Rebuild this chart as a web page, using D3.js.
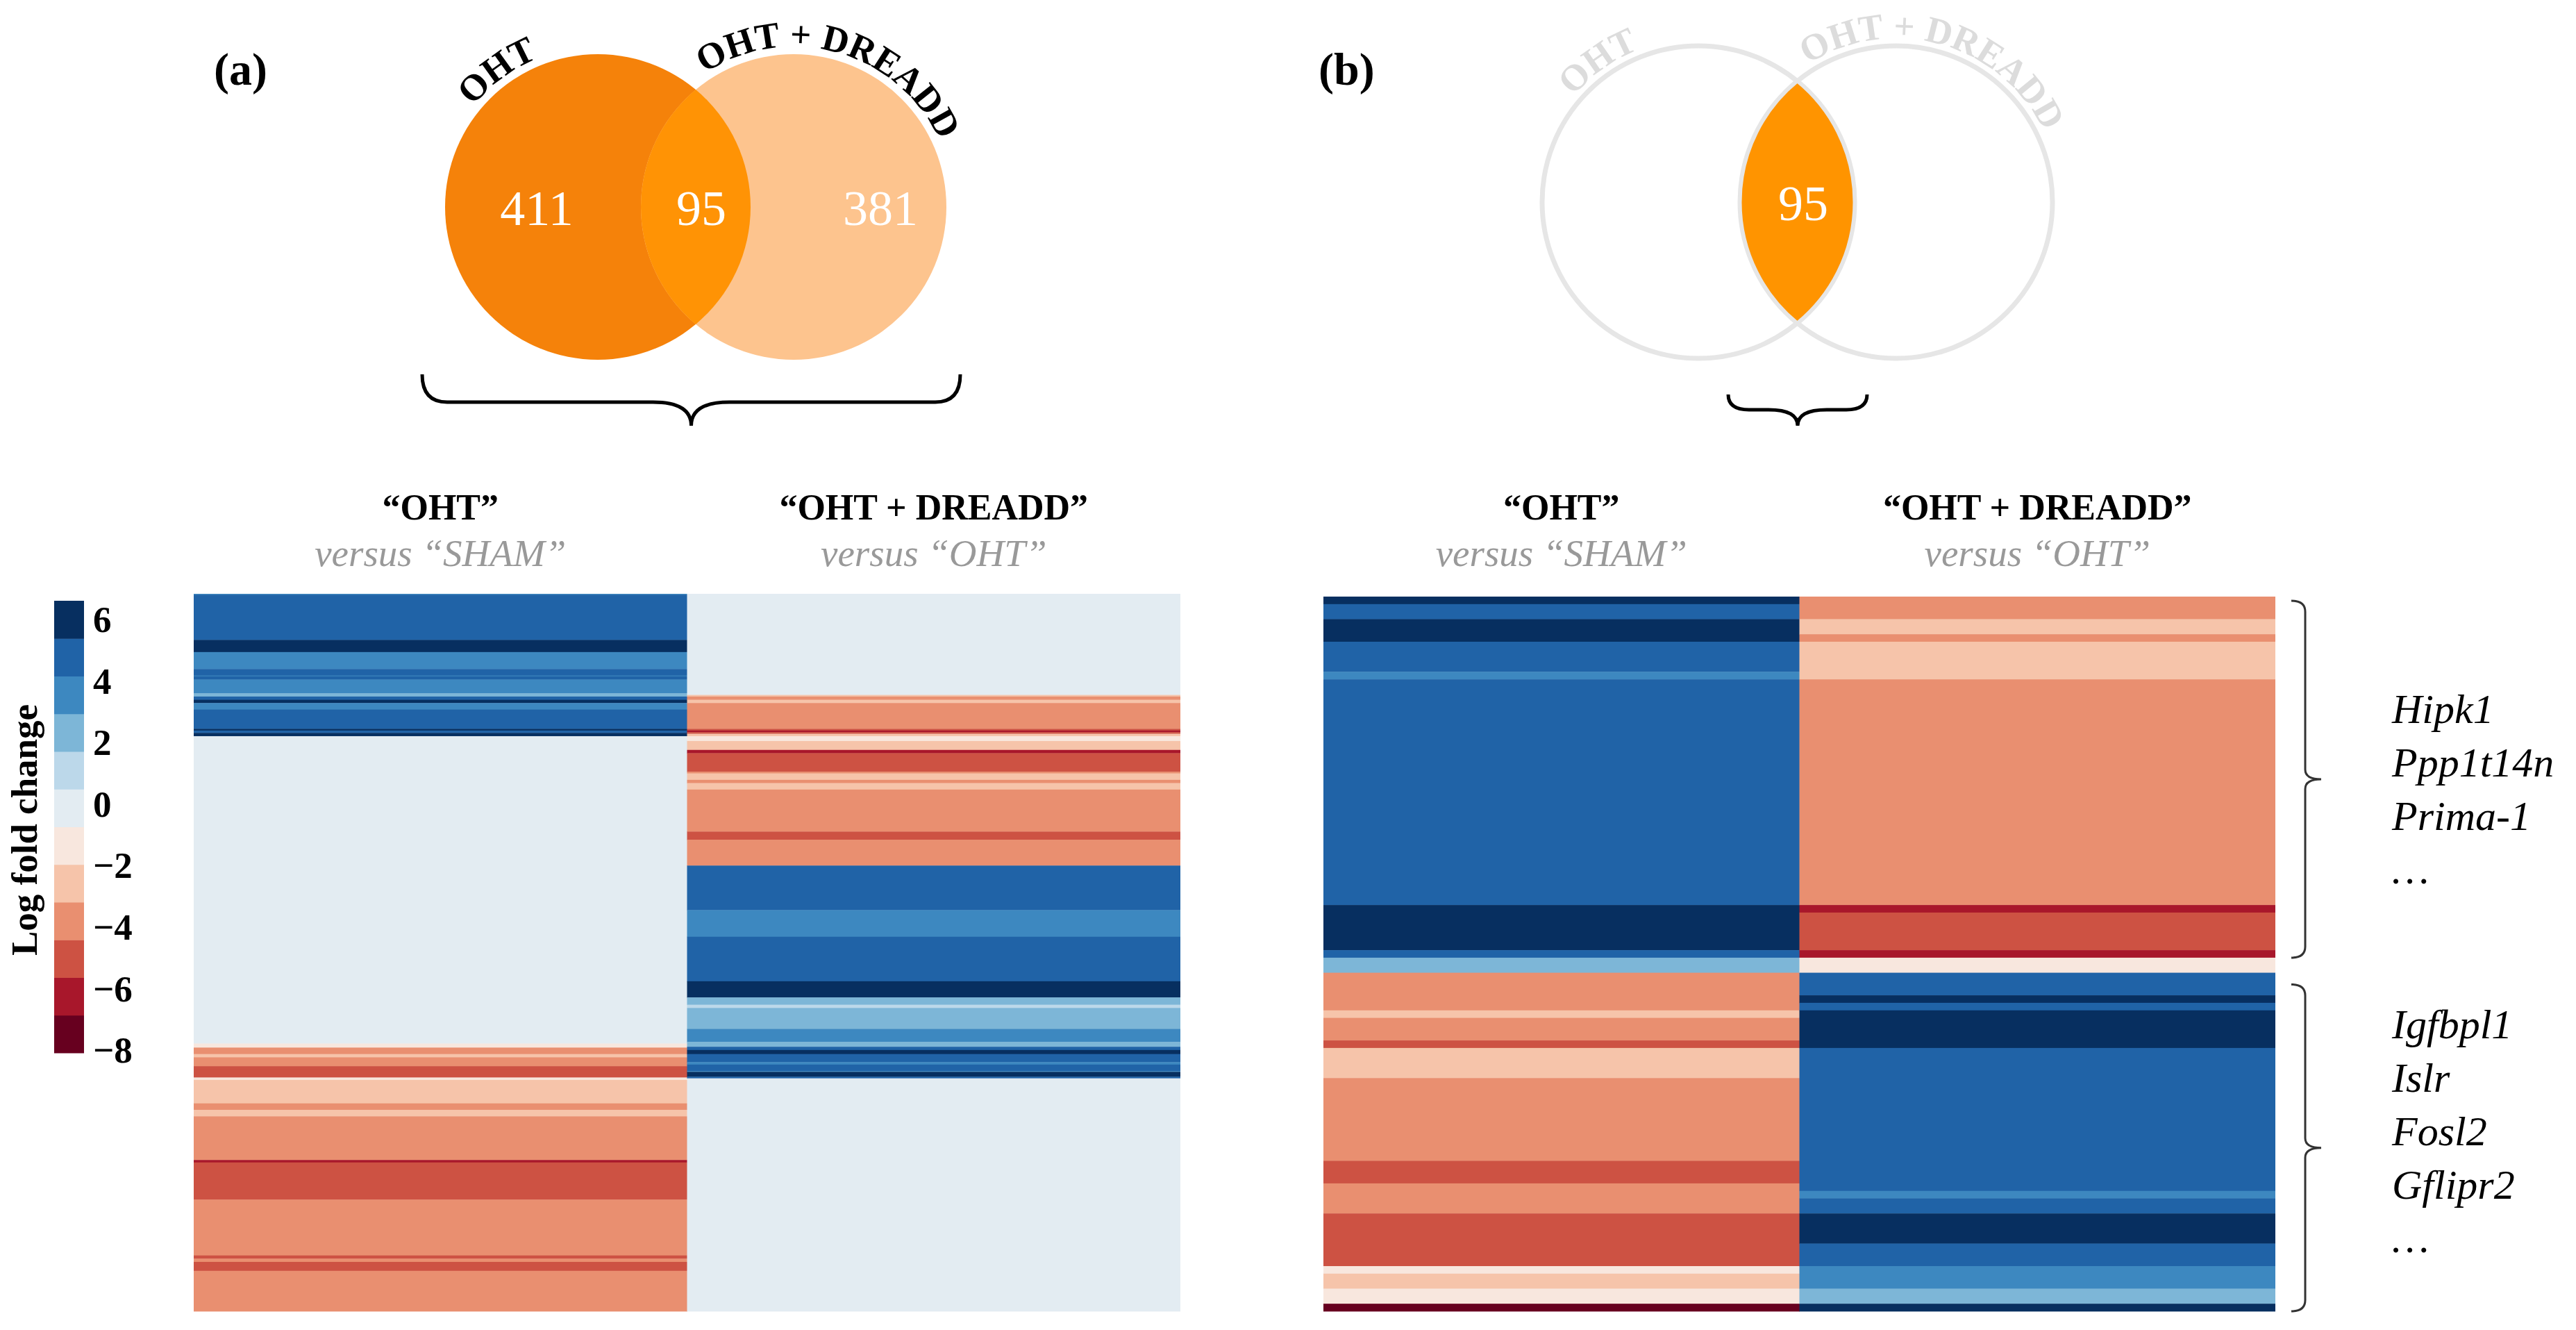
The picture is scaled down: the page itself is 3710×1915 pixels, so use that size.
<!DOCTYPE html>
<html>
<head>
<meta charset="utf-8">
<script src="https://cdn.jsdelivr.net/npm/d3@7"></script>
<style>
html, body { margin: 0; padding: 0; background: #fff; }
svg { display: block; font-family: "Liberation Serif", "DejaVu Serif", serif; }
</style>
</head>
<body>
<script>
// Venn: OHT only, shared, OHT + DREADD only
const vennSets = ["OHT", "OHT + DREADD"];
const vennCounts = [411, 95, 381];

const columnTitles = ["“OHT”", "“OHT + DREADD”"];
const columnSubtitles = ["versus “SHAM”", "versus “OHT”"];

// heatmap rows as runs: [log fold change, number of genes], top to bottom
const allOHT = [
  [3.3, 1], [4.6, 56], [5.8, 15], [3.6, 21], [4.4, 8], [3.2, 1], [4.3, 4], [3.7, 17],
  [2.4, 4], [4.5, 4], [5.6, 4], [3.4, 8], [4.7, 24], [5.5, 2], [4.9, 3], [5.9, 4],
  [0, 380],
  [-1.6, 5], [-3.9, 8], [-2.8, 4], [-3.6, 11], [-4.6, 4], [-5.1, 10], [-1.2, 3], [-2.2, 4],
  [-2.7, 25], [-3.5, 8], [-2.5, 8], [-3.8, 54], [-6.3, 3], [-5.0, 46], [-3.9, 69], [-4.7, 4],
  [-3.6, 4], [-5.2, 11], [-3.7, 50]
];
const allDREADD = [
  [0, 125],
  [-2.4, 2], [-3.5, 4], [-2.6, 4], [-3.8, 32], [-5.1, 2], [-6.1, 2], [-4.8, 2], [-2.3, 3],
  [-1.3, 6], [-2.7, 11], [-6.0, 4], [-5.2, 23], [-3.4, 2], [-2.5, 8], [-3.6, 4], [-2.8, 8],
  [-3.9, 52], [-5.0, 10], [-3.7, 32],
  [4.6, 55], [3.6, 33], [4.8, 55], [5.9, 20], [2.2, 9], [1.3, 4], [2.5, 26], [3.4, 16],
  [2.6, 6], [4.4, 4], [5.7, 5], [4.7, 10], [3.3, 3], [4.5, 8], [3.1, 1], [5.6, 6], [4.3, 2],
  [0, 288]
];
const sharedOHT = [
  [5.8, 1], [4.7, 2], [6.0, 3], [4.5, 4], [3.6, 1], [4.8, 30], [5.9, 6], [4.6, 1], [2.4, 2],
  [-3.8, 5], [-2.6, 1], [-3.7, 3], [-5.0, 1], [-2.7, 4], [-3.9, 11], [-5.1, 3], [-3.6, 4],
  [-5.2, 7], [-1.5, 1], [-2.5, 2], [-1.2, 2], [-7.6, 1]
];
const sharedDREADD = [
  [-3.7, 3], [-2.6, 2], [-3.9, 1], [-2.7, 5], [-3.8, 30], [-6.2, 1], [-5.1, 5], [-6.0, 1],
  [-1.4, 2], [4.6, 3], [5.8, 1], [4.5, 1], [6.1, 5], [4.8, 19], [3.5, 1], [4.7, 2], [5.9, 4],
  [4.6, 3], [3.6, 3], [2.3, 2], [5.7, 1]
];

// gene groups of the shared heatmap: row ranges and example genes
const groupRows = [[0, 48], [51, 95]];
const groupGenes = [
  ["Hipk1", "Ppp1t14n", "Prima-1", "…"],
  ["Igfbpl1", "Islr", "Fosl2", "Gflipr2", "…"]
];

const lfcTicks = [6, 4, 2, 0, -2, -4, -6, -8];
const lfcDomain = [-8.1, 6.6];
const palette = ["#67001f", "#a8172b", "#cd5243", "#e98f70", "#f6c4aa", "#f8e7de",
                 "#e3ecf2", "#bcd8ea", "#7db6d7", "#3d88c0", "#2063a7", "#072f60"];

const W = 3710, H = 1915;
const svg = d3.select("body").append("svg")
    .attr("width", W)
    .attr("height", H)
    .attr("viewBox", `0 0 ${W} ${H}`);

const color = d3.scaleQuantize().domain(lfcDomain).range(palette);

// ---- panel letters
svg.selectAll("text.panel")
    .data([["(a)", 308], ["(b)", 1899]])
    .enter().append("text")
    .attr("class", "panel")
    .attr("x", d => d[1])
    .attr("y", 122)
    .attr("font-size", 66)
    .attr("font-weight", "bold")
    .text(d => d[0]);

// ---- venn diagrams
function arcPath(cx, cy, R, centerDeg) {
    const a0 = (centerDeg - 90) * Math.PI / 180, a1 = (centerDeg + 90) * Math.PI / 180;
    const p = a => [cx + R * Math.sin(a), cy - R * Math.cos(a)];
    const s = p(a0), e = p(a1);
    return `M${s[0]},${s[1]} A${R},${R} 0 0 1 ${e[0]},${e[1]}`;
}

function drawVenn(opt) {
    const g = svg.append("g");
    const cx1 = opt.mid - opt.d / 2, cx2 = opt.mid + opt.d / 2;
    const h = Math.sqrt(opt.r * opt.r - (opt.d / 2) * (opt.d / 2));
    const lens = `M${opt.mid},${opt.cy - h} A${opt.r},${opt.r} 0 0 1 ${opt.mid},${opt.cy + h} ` +
                 `A${opt.r},${opt.r} 0 0 1 ${opt.mid},${opt.cy - h}Z`;

    g.selectAll("circle")
        .data([[cx1, opt.fills[0]], [cx2, opt.fills[1]]])
        .enter().append("circle")
        .attr("cx", d => d[0])
        .attr("cy", opt.cy)
        .attr("r", opt.r)
        .attr("fill", d => d[1])
        .attr("stroke", opt.stroke || "none")
        .attr("stroke-width", 7);

    g.append("path")
        .attr("d", lens)
        .attr("fill", opt.fills[2])
        .attr("stroke", opt.stroke || "none")
        .attr("stroke-width", 5);

    // set labels along the circle tops
    const labelAngles = opt.labelAngles;
    vennSets.forEach((name, i) => {
        const id = `arc-${opt.id}-${i}`;
        g.append("path")
            .attr("id", id)
            .attr("d", arcPath(i === 0 ? cx1 : cx2, opt.cy, opt.r + 11, labelAngles[i]))
            .attr("fill", "none");
        g.append("text")
            .attr("font-size", 53)
            .attr("font-weight", "bold")
            .attr("fill", opt.labelColor)
            .append("textPath")
            .attr("href", "#" + id)
            .attr("startOffset", "50%")
            .attr("text-anchor", "middle")
            .text(name);
    });

    g.selectAll("text.count")
        .data(opt.counts)
        .enter().append("text")
        .attr("class", "count")
        .attr("x", d => d.x)
        .attr("y", opt.cy + 26)
        .attr("text-anchor", "middle")
        .attr("font-size", 72)
        .attr("fill", "#fff")
        .text(d => d.v);
}

drawVenn({
    id: "a", mid: 1002, cy: 298, r: 220, d: 282,
    fills: ["#f5820a", "#fdc48e", "#ff9305"],
    labelColor: "#000", labelAngles: [-36.5, 16],
    counts: [{v: vennCounts[0], x: 773}, {v: vennCounts[1], x: 1010}, {v: vennCounts[2], x: 1268}]
});
drawVenn({
    id: "b", mid: 2588.5, cy: 291, r: 225, d: 285,
    fills: ["none", "none", "#ff9400"], stroke: "#e6e6e6",
    labelColor: "#dcdcdc", labelAngles: [-35.5, 16],
    counts: [{v: vennCounts[1], x: 2597}]
});

// ---- curly braces under the venns
function bracePath(x0, x1, yEnd, yMid, yTip, r, r2) {
    const xc = (x0 + x1) / 2;
    return `M${x0},${yEnd} Q${x0},${yMid} ${x0 + r},${yMid} L${xc - r2},${yMid} ` +
           `Q${xc},${yMid} ${xc},${yTip} Q${xc},${yMid} ${xc + r2},${yMid} ` +
           `L${x1 - r},${yMid} Q${x1},${yMid} ${x1},${yEnd}`;
}
svg.append("path")
    .attr("d", bracePath(608, 1383, 539, 579, 613, 36, 55))
    .attr("fill", "none").attr("stroke", "#000").attr("stroke-width", 5);
svg.append("path")
    .attr("d", bracePath(2489, 2689, 568, 590, 613, 30, 42))
    .attr("fill", "none").attr("stroke", "#000").attr("stroke-width", 5);

// ---- heatmaps
function toSegments(runs) {
    let start = 0;
    return runs.map(([v, n]) => { const s = {v, start, n}; start += n; return s; });
}

function drawHeatmap(x0, x1, y0, y1, cols) {
    const g = svg.append("g");
    const nRows = d3.sum(cols[0], d => d[1]);
    const x = d3.scaleBand().domain([0, 1]).range([x0, x1]);
    const y = d3.scaleLinear().domain([0, nRows]).range([y0, y1]);

    cols.forEach((runs, ci) => {
        g.append("g").selectAll("rect")
            .data(toSegments(runs))
            .enter().append("rect")
            .attr("x", x(ci))
            .attr("width", x.bandwidth() + (ci === 0 ? 0.5 : 0))
            .attr("y", d => y(d.start))
            .attr("height", d => y(d.start + d.n) - y(d.start) + 0.4)
            .attr("fill", d => color(d.v));
    });

    g.selectAll("text.title")
        .data(columnTitles)
        .enter().append("text")
        .attr("class", "title")
        .attr("x", (d, i) => x(i) + x.bandwidth() / 2)
        .attr("y", 748)
        .attr("text-anchor", "middle")
        .attr("font-size", 52)
        .attr("font-weight", "bold")
        .text(d => d);

    g.selectAll("text.sub")
        .data(columnSubtitles)
        .enter().append("text")
        .attr("class", "sub")
        .attr("x", (d, i) => x(i) + x.bandwidth() / 2)
        .attr("y", 815)
        .attr("text-anchor", "middle")
        .attr("font-size", 55)
        .attr("font-style", "italic")
        .attr("fill", "#999")
        .text(d => d);
    return y;
}

drawHeatmap(279, 1700, 855, 1888, [allOHT, allDREADD]);
const yShared = drawHeatmap(1906, 3277, 859, 1888, [sharedOHT, sharedDREADD]);

// ---- group brackets and gene names
groupRows.forEach((rg, gi) => {
    const ya = yShared(rg[0]) + 6, yb = yShared(rg[1]);
    const ym = (ya + yb) / 2;
    const xv = 3320, xh = 3300, xt = 3343;
    svg.append("path")
        .attr("d", `M${xh},${ya} Q${xv},${ya} ${xv},${ya + 16} L${xv},${ym - 14} ` +
                   `Q${xv},${ym} ${xt},${ym} Q${xv},${ym} ${xv},${ym + 14} ` +
                   `L${xv},${yb - 16} Q${xv},${yb} ${xh},${yb}`)
        .attr("fill", "none")
        .attr("stroke", "#333")
        .attr("stroke-width", 3);

    const anchor = gi === 0 ? 1 : 2;
    svg.append("g").selectAll("text")
        .data(groupGenes[gi])
        .enter().append("text")
        .attr("x", 3445)
        .attr("y", (d, i) => ym + (i - anchor) * 77 - 4)
        .attr("font-size", 60)
        .attr("font-style", "italic")
        .text(d => d);
});

// ---- colour bar
const yBar = d3.scaleLinear().domain(lfcDomain).range([1516, 865]);
const edges = [lfcDomain[0], ...color.thresholds(), lfcDomain[1]];
svg.append("g").selectAll("rect")
    .data(palette)
    .enter().append("rect")
    .attr("x", 78)
    .attr("width", 43)
    .attr("y", (d, i) => yBar(edges[i + 1]))
    .attr("height", (d, i) => yBar(edges[i]) - yBar(edges[i + 1]) + 0.5)
    .attr("fill", d => d);

svg.append("g").selectAll("text")
    .data(lfcTicks)
    .enter().append("text")
    .attr("x", 134)
    .attr("y", d => yBar(d))
    .attr("dy", "0.35em")
    .attr("font-size", 53)
    .attr("font-weight", "bold")
    .text(d => d < 0 ? "−" + Math.abs(d) : d);

svg.append("text")
    .attr("transform", "translate(53,1195) rotate(-90)")
    .attr("text-anchor", "middle")
    .attr("font-size", 53)
    .attr("font-weight", "bold")
    .text("Log fold change");
</script>
</body>
</html>
